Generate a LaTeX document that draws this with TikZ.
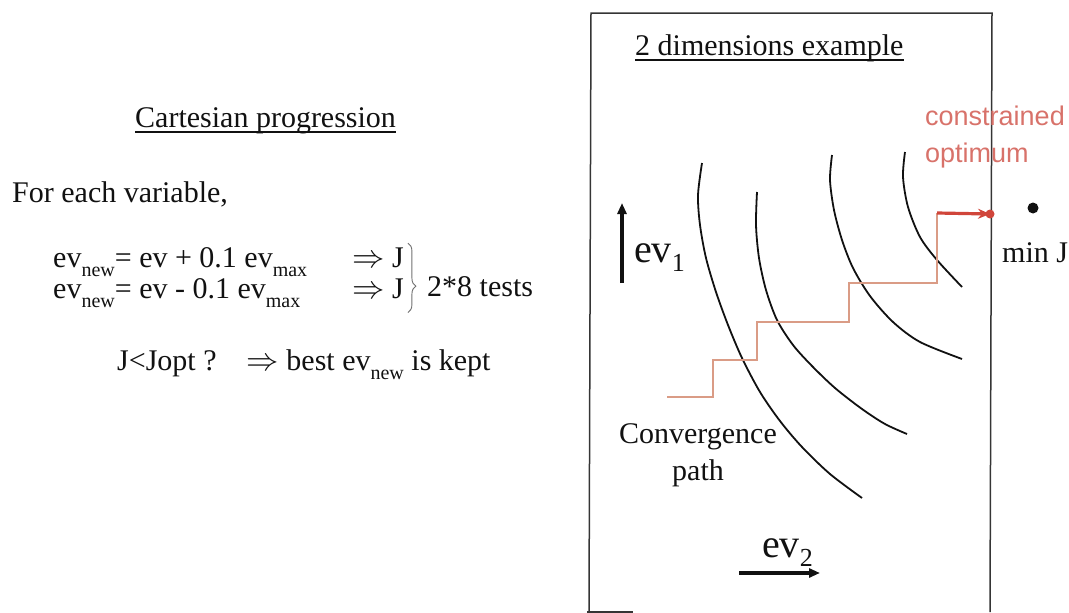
\documentclass[tikz,border=0pt]{standalone}
\usepackage{fontspec}
\setmainfont{Liberation Serif}
\newfontfamily\labelsans{Liberation Sans}
\usetikzlibrary{arrows.meta,decorations.pathreplacing}
\definecolor{ink}{HTML}{111111}
\definecolor{rust}{HTML}{D0453A}
\definecolor{pale}{HTML}{DA9C86}
\definecolor{rose}{HTML}{D8726A}
\tikzset{
  body/.style={anchor=base west,inner sep=0pt,font=\fontsize{30}{36}\selectfont,text=ink},
  axislabel/.style={anchor=base west,inner sep=0pt,font=\fontsize{40}{44}\selectfont,text=ink},
  underl/.style={line width=1.3pt,ink},
  frame/.style={line width=1.5pt,ink!85},
  level/.style={line width=1.8pt,ink},
  axisarrow/.style={-{Triangle[length=11pt,width=9pt]},line width=3.6pt,ink},
  stepline/.style={line width=1.8pt,pale},
  hitarrow/.style={-{Stealth[length=12pt,width=10pt]},line width=3.2pt,rust},
  blob/.style={circle,inner sep=0pt,minimum size=#1},
}
\newcommand\lowsub[1]{\raisebox{-9pt}{\fontsize{20}{20}\selectfont #1}}
\newcommand\bigsub[1]{\raisebox{-9pt}{\fontsize{26}{26}\selectfont #1}}
\newcommand\implies{\scalebox{1.3}{$\Rightarrow$}}

\begin{document}
\begin{tikzpicture}[x=1pt,y=-1pt]
  \useasboundingbox (0,0) rectangle (1069,613);

  % Left: how each step of the search is taken.
  \node[body] (title) at (135,127) {Cartesian progression};
  \draw[underl] ([yshift=-5pt]title.base west) -- ([yshift=-5pt]title.base east);
  \node[body] (each) at (12,202) {For each variable,};
  \node[body] (plus) at (53,267) {ev\lowsub{new}= ev + 0.1 ev\lowsub{max}};
  \node[body] (minus) at (53,298) {ev\lowsub{new}= ev - 0.1 ev\lowsub{max}};
  \node[body] (jplus) at (352,267) {\implies\ J};
  \node[body] (jminus) at (352,298) {\implies\ J};
  \draw[decorate,decoration={brace,amplitude=8pt,aspect=0.62},line width=.9pt,ink!60]
    ([xshift=4pt,yshift=4pt]jplus.north east) -- ([xshift=4pt,yshift=-14pt]jminus.south east);
  \node[body] (tests) at (427,296) {2*8 tests};
  \node[body] (keep) at (117,370) {J<Jopt ?\quad\implies\ best ev\lowsub{new} is kept};

  % Right: the two dimensions example.
  \draw[frame] (589,612) -- (591,13) -- (992,13) -- (990,612);
  \draw[frame] (587,612) -- (633,612);
  \node[body] (example) at (635,55) {2 dimensions example};
  \draw[underl] ([yshift=-5pt]example.base west) -- ([yshift=-5pt]example.base east);

  % Level lines of J.
  \draw[level] plot[smooth] coordinates {(702,163) (698,195) (700,225) (706,258) (716,292)
    (728,325) (742,358) (760,392) (780,421) (802,447) (830,474) (862,498)};
  \draw[level] plot[smooth] coordinates {(757,192) (756,225) (759,258) (766,290) (777,320)
    (793,345) (812,366) (835,388) (862,409) (885,424) (907,434)};
  \draw[level] plot[smooth] coordinates {(832,155) (830,180) (834,210) (842,240) (853,268)
    (870,296) (893,322) (920,342) (962,359)};
  \draw[level] plot[smooth] coordinates {(905,152) (903,177) (908,207) (920,237) (937,260)
    (962,287)};

  % Convergence path.
  \coordinate (turn) at (937,213);
  \draw[stepline] (667,397) -| (713,360) -| (757,322) -| (849,283) -| (turn);
  \node[blob=9pt,fill=rust] (optimum) at (990,214) {};
  \draw[hitarrow] (turn) -- (optimum.center);
  \node[blob=11pt,fill=ink] (minj) at (1033,208) {};
  \node[body] (minlabel) at (1002,262) {min J};
  \node[anchor=base west,inner sep=0pt,font=\labelsans\fontsize{27}{32}\selectfont,text=rose]
    (conlabel) at (925,125) {constrained};
  \node[anchor=base west,inner sep=0pt,font=\labelsans\fontsize{27}{32}\selectfont,text=rose]
    (optlabel) at (925,162) {optimum};
  \node[body,anchor=base] (conv) at (698,443) {Convergence};
  \node[body,anchor=base] (convb) at (698,480) {path};

  % Axes.
  \coordinate (evonetail) at (622,283);
  \coordinate (evonehead) at (622,203);
  \draw[axisarrow] (evonetail) -- (evonehead);
  \node[axislabel] (evone) at (634,262) {ev\bigsub{1}};
  \coordinate (evtwotail) at (739,573);
  \coordinate (evtwohead) at (820,573);
  \draw[axisarrow] (evtwotail) -- (evtwohead);
  \node[axislabel] (evtwo) at (762,557) {ev\bigsub{2}};
\end{tikzpicture}
\end{document}
